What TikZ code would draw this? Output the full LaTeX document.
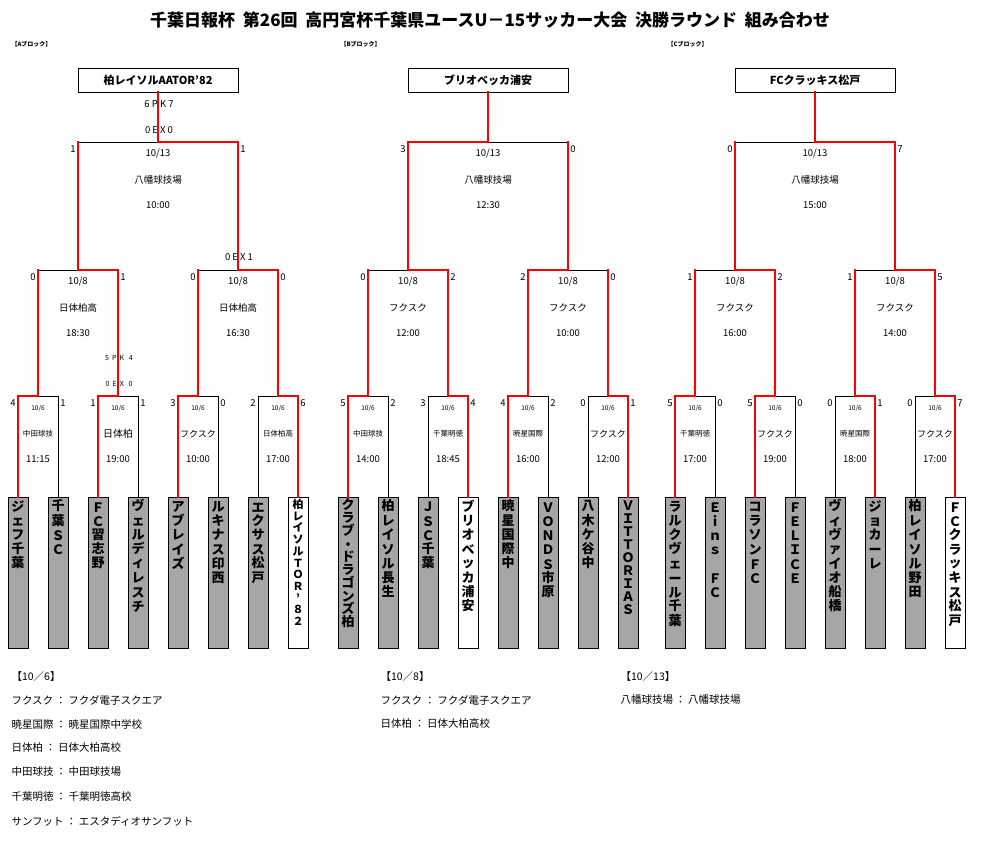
\documentclass[tikz,border=0pt]{standalone}
\usepackage{fontspec}
\setmainfont{Noto Sans CJK JP}
\makeatletter
\newcommand\vstack[2][14.3pt]{\vbox to 146pt{\offinterlineskip
  \@tfor\ch:=#2\do{\hbox to 20pt{\hss\vbox to #1{\vss\hbox{\ch}\vskip 2pt}\hss}}\vss}}
\makeatother
\newcommand\fs[1]{\fontsize{#1}{#1}\selectfont}
% one round of the bracket: xl, xr, ybottom, ytop, colours of left vertical, left half, right vertical, right half
\newcommand\tie[8]{%
  \draw[#6] (#1,#4) -- ({(#1+#2)/2},#4);
  \draw[#8] ({(#1+#2)/2},#4) -- (#2,#4);
  \draw[#5] (#1,#3) -- (#1,#4);
  \draw[#7] (#2,#3) -- (#2,#4);}
% date, venue, time below a horizontal line
\newcommand\info[7]{% x, y, left score, right score, date, venue, time (#1 is the middle, half width in \hw)
  \node[sc] at ({#1-\hw-5},{#2+7}) {#3};
  \node[sc] at ({#1+\hw+5},{#2+7}) {#4};
  \node[txt] at (#1,{#2+12}) {#5};
  \node[txt] at (#1,{#2+38}) {#6};
  \node[txt] at (#1,{#2+63}) {#7};}
\begin{document}
\begin{tikzpicture}[x=1pt,y=-1pt,
  win/.style={red,line width=2pt,line cap=rect},
  lose/.style={black,line width=0.9pt},
  sc/.style={font=\fs{9.5}},
  txt/.style={font=\fs{9.5}},
  team/.style={draw,fill=black!35,minimum width=20pt,minimum height=151pt,anchor=north,inner sep=0pt,font=\fs{13}\bfseries},
  champ/.style={team,fill=white},
  cup/.style={draw,line width=0.9pt,minimum width=160pt,minimum height=24pt,font=\fs{11}\bfseries,inner sep=0pt},
  blk/.style={font=\fs{6}\bfseries,anchor=west},
  legend/.style={font=\fs{10.5},anchor=west}]
\useasboundingbox (0,0) rectangle (987,855);
\node[font=\fs{17}\bfseries] (title) at (490,20) {千葉日報杯\ \ 第26回\ \ 高円宮杯千葉県ユースU－15サッカー大会\ \ 決勝ラウンド\ \ 組み合わせ};
\node[blk] (blkA) at (8,44) {【Aブロック】};
\node[blk] (blkB) at (337,44) {【Bブロック】};
\node[blk] (blkC) at (664,44) {【Cブロック】};

% A block teams
\node[team] (a1) at (18,497) {\vstack{ジェフ千葉}};
\node[team] (a2) at (58,497) {\vstack{千葉ＳＣ}};
\node[team] (a3) at (98,497) {\vstack{ＦＣ習志野}};
\node[team] (a4) at (138,497) {\vstack{ヴェルディレスチ}};
\node[team] (a5) at (178,497) {\vstack{アブレイズ}};
\node[team] (a6) at (218,497) {\vstack{ルキナス印西}};
\node[team] (a7) at (258,497) {\vstack{エクサス松戸}};
\node[champ,font=\fs{11}\bfseries] (a8) at (298,497) {\vstack[11.6pt]{柏レイソルＴＯＲ’８２}};
% B block teams
\node[team] (b1) at (348,497) {\vstack[13pt]{クラブ・ドラゴンズ柏}};
\node[team] (b2) at (388,497) {\vstack{柏レイソル長生}};
\node[team] (b3) at (428,497) {\vstack{ＪＳＣ千葉}};
\node[champ] (b4) at (468,497) {\vstack{ブリオベッカ浦安}};
\node[team] (b5) at (508,497) {\vstack{暁星国際中}};
\node[team] (b6) at (548,497) {\vstack{ＶＯＮＤＳ市原}};
\node[team] (b7) at (588,497) {\vstack{八木ケ谷中}};
\node[team] (b8) at (628,497) {\vstack[13pt]{ＶＩＴＴＯＲＩＡＳ}};
% C block teams
\node[team] (c1) at (675,497) {\vstack{ラルクヴェール千葉}};
\node[team] (c2) at (715,497) {\vstack{Ｅｉｎｓ　ＦＣ}};
\node[team] (c3) at (755,497) {\vstack{コラソンＦＣ}};
\node[team] (c4) at (795,497) {\vstack{ＦＥＬＩＣＥ}};
\node[team] (c5) at (835,497) {\vstack{ヴィヴァイオ船橋}};
\node[team] (c6) at (875,497) {\vstack{ジョカーレ}};
\node[team] (c7) at (915,497) {\vstack{柏レイソル野田}};
\node[champ] (c8) at (955,497) {\vstack{ＦＣクラッキス松戸}};

% block winners
\node[cup] (winA) at (158,80) {柏レイソルAATOR’82};
\node[cup] (winB) at (488,80) {ブリオベッカ浦安};
\node[cup] (winC) at (815,80) {FCクラッキス松戸};

% first round
\def\hw{20}
\tie{18}{58}{497}{396}{win}{win}{lose}{lose}
\tie{98}{138}{497}{396}{win}{win}{lose}{lose}
\tie{178}{218}{497}{396}{win}{win}{lose}{lose}
\tie{258}{298}{497}{396}{lose}{lose}{win}{win}
\tie{348}{388}{497}{396}{win}{win}{lose}{lose}
\tie{428}{468}{497}{396}{lose}{lose}{win}{win}
\tie{508}{548}{497}{396}{win}{win}{lose}{lose}
\tie{588}{628}{497}{396}{lose}{lose}{win}{win}
\tie{675}{715}{497}{396}{win}{win}{lose}{lose}
\tie{755}{795}{497}{396}{win}{win}{lose}{lose}
\tie{835}{875}{497}{396}{lose}{lose}{win}{win}
\tie{915}{955}{497}{396}{lose}{lose}{win}{win}
\begin{scope}[txt/.append style={font=\fs{7.5}}]
\info{38}{396}{4}{1}{\fs{6.5}10/6}{中田球技}{\fs{9.5}11:15}
\info{118}{396}{1}{1}{\fs{6.5}10/6}{\fs{10}日体柏}{\fs{9.5}19:00}
\info{198}{396}{3}{0}{\fs{6.5}10/6}{\fs{9}フクスク}{\fs{9.5}10:00}
\info{278}{396}{2}{6}{\fs{6.5}10/6}{日体柏高}{\fs{9.5}17:00}
\info{368}{396}{5}{2}{\fs{6.5}10/6}{中田球技}{\fs{9.5}14:00}
\info{448}{396}{3}{4}{\fs{6.5}10/6}{千葉明徳}{\fs{9.5}18:45}
\info{528}{396}{4}{2}{\fs{6.5}10/6}{暁星国際}{\fs{9.5}16:00}
\info{608}{396}{0}{1}{\fs{6.5}10/6}{\fs{9}フクスク}{\fs{9.5}12:00}
\info{695}{396}{5}{0}{\fs{6.5}10/6}{千葉明徳}{\fs{9.5}17:00}
\info{775}{396}{5}{0}{\fs{6.5}10/6}{\fs{9}フクスク}{\fs{9.5}19:00}
\info{855}{396}{0}{1}{\fs{6.5}10/6}{暁星国際}{\fs{9.5}18:00}
\info{935}{396}{0}{7}{\fs{6.5}10/6}{\fs{9}フクスク}{\fs{9.5}17:00}
\end{scope}
\node[font=\fs{7}] (pkA2) at (119,358) {5\ \ P\ \ K\ \ \ 4};
\node[font=\fs{7}] (exA2) at (119,384) {0\ \ E\ \ X\ \ \ 0};

% semi-finals
\def\hw{40}
\tie{38}{118}{396}{270}{win}{lose}{win}{win}
\tie{198}{278}{396}{270}{win}{lose}{win}{win}
\tie{368}{448}{396}{270}{win}{lose}{win}{win}
\tie{528}{608}{396}{270}{win}{win}{win}{lose}
\tie{695}{775}{396}{270}{win}{lose}{win}{win}
\tie{855}{935}{396}{270}{win}{lose}{win}{win}
\info{78}{270}{0}{1}{10/8}{日体柏高}{18:30}
\info{238}{270}{0}{0}{10/8}{日体柏高}{16:30}
\info{408}{270}{0}{2}{10/8}{フクスク}{12:00}
\info{568}{270}{2}{0}{10/8}{フクスク}{10:00}
\info{735}{270}{1}{2}{10/8}{フクスク}{16:00}
\info{895}{270}{1}{5}{10/8}{フクスク}{14:00}
\node[sc] (exA6) at (239,257) {0\ E\ X\ 1};

% finals
\def\hw{80}
\tie{78}{238}{270}{142}{win}{lose}{win}{win}
\tie{408}{568}{270}{142}{win}{win}{win}{lose}
\tie{735}{895}{270}{142}{win}{lose}{win}{win}
\info{158}{142}{1}{1}{10/13}{八幡球技場}{10:00}
\info{488}{142}{3}{0}{10/13}{八幡球技場}{12:30}
\info{815}{142}{0}{7}{10/13}{八幡球技場}{15:00}
\node[sc] (pkA7) at (159,104) {6\ P\ K\ 7};
\node[sc] (exA7) at (159,130) {0\ E\ X\ 0};
\coordinate (topA) at (158,142);
\coordinate (topB) at (488,142);
\coordinate (topC) at (815,142);
\draw[win] (winA.south) -- (topA);
\draw[win] (winB.south) -- (topB);
\draw[win] (winC.south) -- (topC);

% venues
\node[legend] (l1) at (8,676) {【10／6】};
\node[legend] (l2) at (8,700) {フクスク\ ：\ フクダ電子スクエア};
\node[legend] (l3) at (8,724) {暁星国際\ ：\ 暁星国際中学校};
\node[legend] (l4) at (8,748) {日体柏\ ：\ 日体大柏高校};
\node[legend] (l5) at (8,772) {中田球技\ ：\ 中田球技場};
\node[legend] (l6) at (8,797) {千葉明徳\ ：\ 千葉明徳高校};
\node[legend] (l7) at (8,821) {サンフット\ ：\ エスタディオサンフット};
\node[legend] (m1) at (377,676) {【10／8】};
\node[legend] (m2) at (377,700) {フクスク\ ：\ フクダ電子スクエア};
\node[legend] (m3) at (377,724) {日体柏\ ：\ 日体大柏高校};
\node[legend] (r1) at (617,676) {【10／13】};
\node[legend] (r2) at (617,700) {八幡球技場\ ：\ 八幡球技場};
\end{tikzpicture}
\end{document}
